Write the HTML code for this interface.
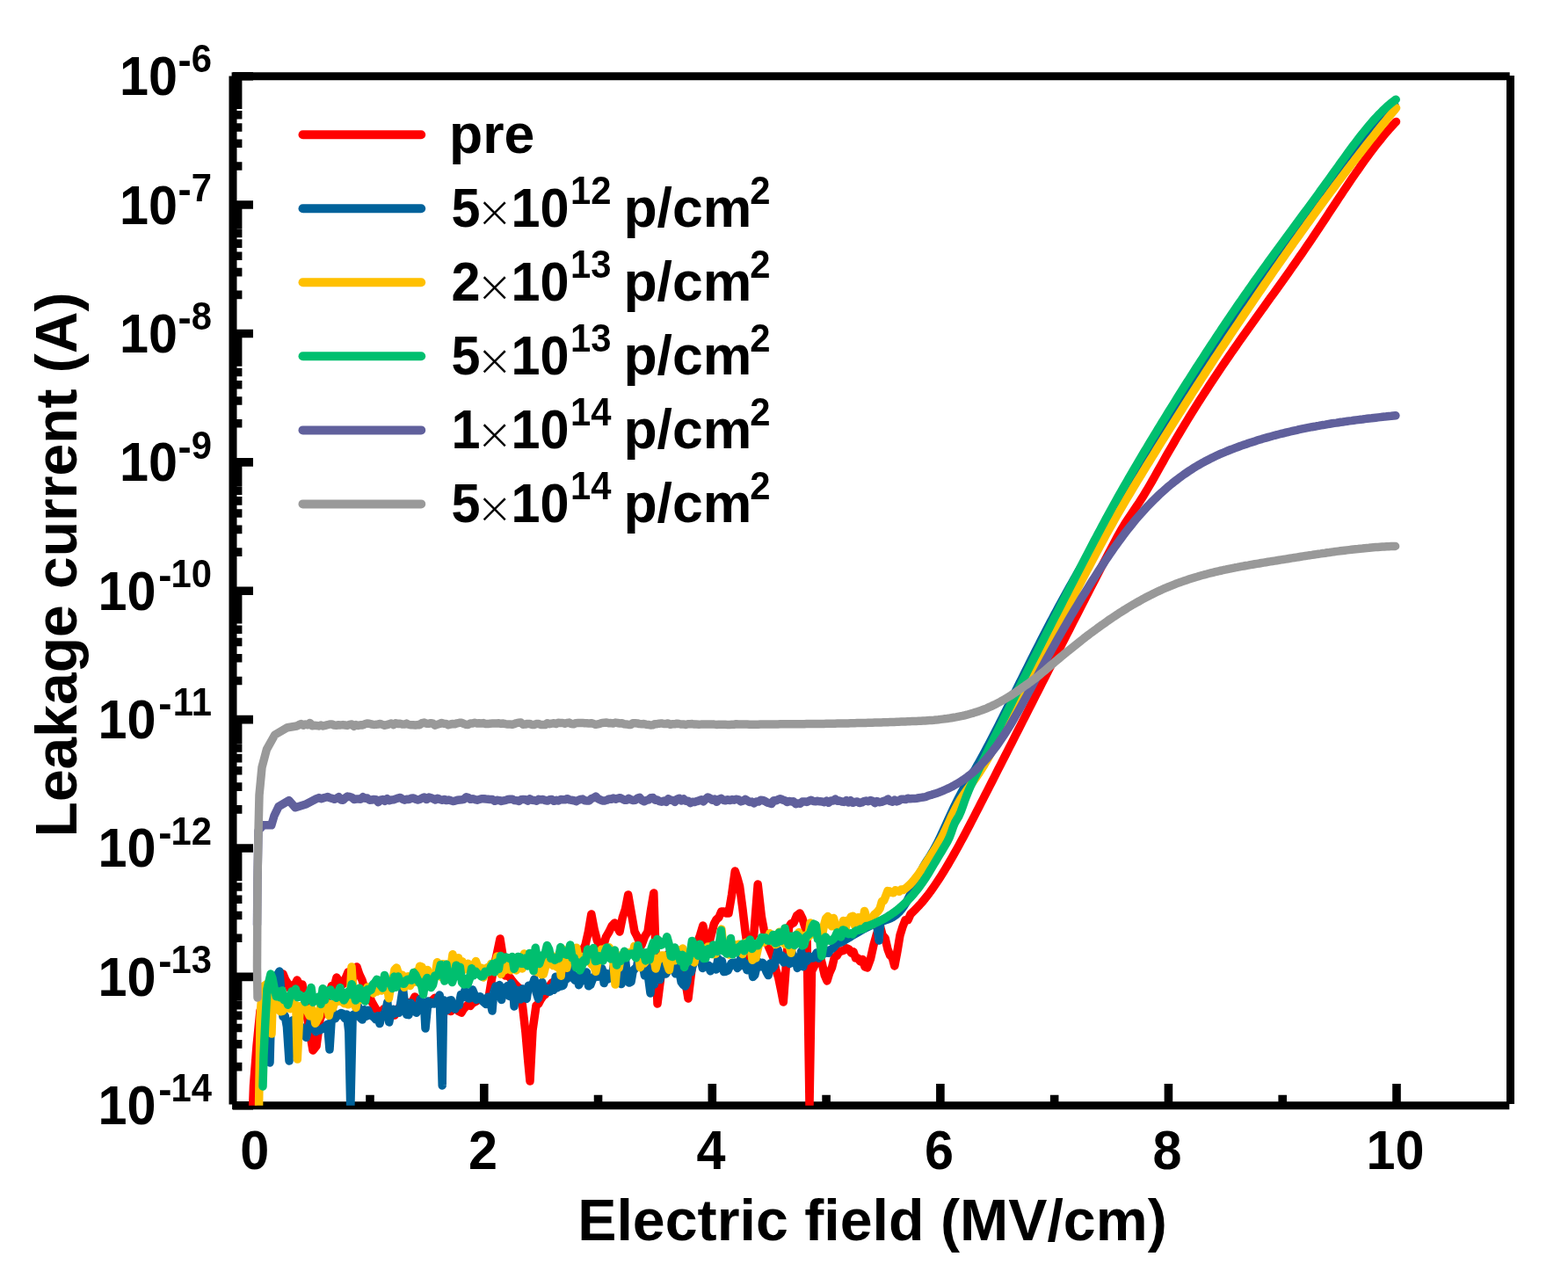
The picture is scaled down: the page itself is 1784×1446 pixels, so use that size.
<!DOCTYPE html><html><head><meta charset="utf-8"><title>Leakage current vs electric field</title><style>html,body{margin:0;padding:0;background:#fff;overflow:hidden}svg{display:block}text{font-family:"Liberation Sans",Arial,sans-serif;font-weight:bold;fill:#000}</style></head><body>
<svg width="1784" height="1446" viewBox="0 0 1784 1446">
<rect width="1784" height="1446" fill="#fff"/>
<defs><clipPath id="pc"><rect x="265.0" y="86.7" width="1453.5" height="1171.0"/></clipPath></defs>
<path d="M265.0,86.6 V1256.4 M264.1,1257.7 H1717.3 M263.6,86.7 H1717.7 M1718.5,86.1 V1256" stroke="#000" stroke-width="9.0" fill="none"/>
<path d="M291.20,1257.7 V1233.10 M550.76,1257.7 V1233.10 M810.32,1257.7 V1233.10 M1069.88,1257.7 V1233.10 M1329.44,1257.7 V1233.10 M1589.00,1257.7 V1233.10 M420.98,1257.7 V1245.70 M680.54,1257.7 V1245.70 M940.10,1257.7 V1245.70 M1199.66,1257.7 V1245.70 M1459.22,1257.7 V1245.70 M265.0,1257.70 H288.00 M265.0,1213.64 H275.40 M265.0,1187.86 H275.40 M265.0,1169.57 H275.40 M265.0,1155.39 H275.40 M265.0,1143.80 H275.40 M265.0,1134.00 H275.40 M265.0,1125.51 H275.40 M265.0,1118.02 H275.40 M265.0,1111.33 H288.00 M265.0,1067.26 H275.40 M265.0,1041.49 H275.40 M265.0,1023.20 H275.40 M265.0,1009.01 H275.40 M265.0,997.42 H275.40 M265.0,987.62 H275.40 M265.0,979.14 H275.40 M265.0,971.65 H275.40 M265.0,964.95 H288.00 M265.0,920.89 H275.40 M265.0,895.11 H275.40 M265.0,876.82 H275.40 M265.0,862.64 H275.40 M265.0,851.05 H275.40 M265.0,841.25 H275.40 M265.0,832.76 H275.40 M265.0,825.27 H275.40 M265.0,818.58 H288.00 M265.0,774.51 H275.40 M265.0,748.74 H275.40 M265.0,730.45 H275.40 M265.0,716.26 H275.40 M265.0,704.67 H275.40 M265.0,694.87 H275.40 M265.0,686.39 H275.40 M265.0,678.90 H275.40 M265.0,672.20 H288.00 M265.0,628.14 H275.40 M265.0,602.36 H275.40 M265.0,584.07 H275.40 M265.0,569.89 H275.40 M265.0,558.30 H275.40 M265.0,548.50 H275.40 M265.0,540.01 H275.40 M265.0,532.52 H275.40 M265.0,525.83 H288.00 M265.0,481.76 H275.40 M265.0,455.99 H275.40 M265.0,437.70 H275.40 M265.0,423.51 H275.40 M265.0,411.92 H275.40 M265.0,402.12 H275.40 M265.0,393.64 H275.40 M265.0,386.15 H275.40 M265.0,379.45 H288.00 M265.0,335.39 H275.40 M265.0,309.61 H275.40 M265.0,291.32 H275.40 M265.0,277.14 H275.40 M265.0,265.55 H275.40 M265.0,255.75 H275.40 M265.0,247.26 H275.40 M265.0,239.77 H275.40 M265.0,233.07 H288.00 M265.0,189.01 H275.40 M265.0,163.24 H275.40 M265.0,144.95 H275.40 M265.0,130.76 H275.40 M265.0,119.17 H275.40 M265.0,109.37 H275.40 M265.0,100.89 H275.40 M265.0,93.40 H275.40 M265.0,86.70 H288.00" stroke="#000" stroke-width="9.6" fill="none"/>
<g clip-path="url(#pc)" fill="none" stroke-width="9.5" stroke-linejoin="round" stroke-linecap="round">
<polyline stroke="#ff0000" points="287.5,1262.0 288.5,1235.0 292.0,1190.0 296.0,1150.0 296.0,1150.0 299.0,1142.5 302.0,1137.0 305.0,1130.0 308.0,1128.1 311.0,1124.7 314.0,1118.0 316.7,1113.8 319.3,1109.9 322.0,1108.0 324.7,1114.6 327.3,1118.6 330.0,1125.0 332.7,1121.0 335.3,1120.5 338.0,1115.0 341.0,1120.9 344.0,1120.0 347.0,1140.5 350.0,1160.0 353.0,1177.1 356.0,1195.0 360.0,1190.0 364.0,1160.0 366.7,1152.8 369.3,1139.6 372.0,1135.0 374.8,1129.2 377.5,1121.4 380.2,1122.5 383.0,1112.0 386.5,1117.4 390.0,1120.0 393.0,1113.3 396.0,1106.0 398.5,1110.1 401.0,1115.0 403.5,1102.5 406.0,1100.0 409.0,1108.9 412.0,1115.0 414.5,1123.6 417.0,1124.2 419.5,1131.0 422.8,1139.4 426.0,1145.0 429.4,1150.9 432.7,1154.0 436.4,1147.9 440.0,1148.0 443.0,1152.2 446.0,1155.4 449.0,1155.0 452.0,1150.5 455.0,1144.9 458.0,1140.0 460.7,1143.2 463.3,1140.3 466.0,1145.0 469.0,1139.7 472.0,1134.0 476.0,1139.0 478.7,1143.1 481.3,1140.5 484.0,1145.0 486.7,1144.7 489.3,1139.5 492.0,1138.0 494.7,1135.2 497.3,1140.5 500.0,1142.0 502.7,1142.7 505.3,1148.0 508.0,1150.0 510.5,1146.9 513.0,1150.6 515.5,1146.3 518.0,1147.0 521.5,1150.2 525.0,1152.0 527.5,1147.8 530.0,1145.4 532.5,1143.0 535.0,1144.4 537.5,1141.4 540.0,1140.0 542.7,1138.5 545.3,1136.2 548.0,1138.0 550.7,1139.3 553.3,1137.5 556.0,1135.0 559.0,1116.8 562.0,1100.0 565.5,1084.5 569.0,1068.0 572.0,1086.9 575.0,1110.0 577.7,1110.0 580.3,1112.3 583.0,1116.0 586.0,1119.7 589.0,1122.6 592.0,1125.0 595.0,1148.5 598.0,1175.0 600.5,1204.0 603.0,1230.0 606.0,1172.0 610.0,1144.0 612.7,1141.9 615.3,1137.0 618.0,1133.0 620.5,1131.3 623.0,1124.9 625.5,1121.5 628.0,1118.0 631.0,1116.9 634.0,1113.9 637.0,1113.6 640.0,1110.0 643.2,1105.2 646.3,1108.2 649.5,1103.0 652.1,1096.9 654.8,1093.7 657.4,1086.7 660.0,1085.0 663.0,1081.2 666.0,1075.0 669.4,1060.0 672.8,1040.0 676.1,1057.1 679.4,1070.0 682.7,1075.7 686.0,1078.0 689.5,1065.9 693.0,1060.0 696.1,1053.4 699.3,1050.0 702.1,1054.1 705.0,1060.0 708.2,1044.1 711.5,1034.2 714.7,1018.0 718.4,1039.4 722.0,1060.0 724.7,1065.0 727.3,1071.0 730.0,1075.0 733.5,1065.6 737.0,1060.0 740.4,1036.2 743.8,1016.0 748.0,1142.0 751.5,1114.2 755.0,1090.0 757.5,1088.5 760.0,1085.7 762.5,1083.7 765.0,1080.0 767.5,1085.9 770.0,1084.8 772.5,1090.1 775.0,1095.0 777.7,1109.0 780.3,1119.6 783.0,1136.0 786.5,1106.9 790.0,1080.0 793.3,1073.0 796.5,1064.2 799.8,1053.0 802.9,1066.7 806.0,1076.0 809.2,1063.6 812.4,1051.0 815.2,1045.9 817.9,1043.8 820.7,1037.0 823.5,1036.9 826.2,1039.0 829.0,1039.0 832.6,1017.7 836.3,991.0 838.9,998.8 841.5,1008.0 844.8,1032.8 848.0,1060.0 851.0,1080.5 854.0,1101.0 858.0,1060.0 862.2,1006.0 866.4,1043.0 869.2,1057.7 872.0,1070.0 874.7,1077.6 877.3,1083.6 880.0,1090.0 882.8,1103.6 885.6,1111.8 888.5,1125.8 891.3,1140.0 894.4,1097.8 897.5,1055.0 900.2,1050.6 903.0,1050.0 906.5,1041.8 910.0,1039.0 912.7,1044.3 915.3,1052.5 918.0,1062.0 921.0,1257.0 923.5,1105.0 926.6,1098.6 929.7,1091.0 932.8,1087.0 935.5,1097.1 938.3,1109.7 941.0,1116.0 943.8,1106.7 946.6,1100.5 949.4,1089.0 952.3,1087.2 955.1,1082.1 958.0,1082.0 960.7,1080.8 963.3,1078.7 966.0,1080.0 968.5,1084.0 971.0,1082.7 973.5,1090.1 976.0,1090.0 978.7,1093.9 981.4,1091.5 984.0,1099.8 986.7,1101.0 990.4,1091.1 994.0,1075.0 997.6,1062.4 1001.2,1053.0 1004.1,1064.0 1007.1,1067.4 1010.0,1080.0 1012.6,1086.8 1015.2,1089.3 1017.8,1099.0 1020.9,1082.5 1024.0,1064.0 1027.0,1054.4 1030.0,1046.7 1033.0,1046.8 1036.0,1040.0 1041.0,1035.1 1043.5,1032.5 1046.0,1029.9 1048.5,1027.1 1051.0,1024.1 1053.5,1021.0 1056.0,1017.8 1058.5,1014.5 1061.0,1011.0 1063.5,1007.4 1066.0,1003.7 1068.5,999.9 1071.0,996.0 1073.5,992.0 1076.0,987.9 1078.5,983.7 1081.0,979.4 1083.5,975.1 1086.0,970.7 1088.5,966.2 1091.0,961.7 1093.5,957.1 1096.0,952.4 1098.5,947.7 1101.0,943.0 1103.5,938.2 1106.0,933.4 1108.5,928.6 1111.0,923.7 1113.5,918.8 1116.0,913.9 1118.5,909.1 1121.0,904.2 1123.5,899.3 1126.0,894.4 1128.5,889.5 1131.0,884.6 1133.5,879.7 1136.0,874.7 1138.5,869.8 1141.0,864.9 1143.5,860.0 1146.0,855.1 1148.5,850.2 1151.0,845.3 1153.5,840.4 1156.0,835.4 1158.5,830.5 1161.0,825.6 1163.5,820.7 1166.0,815.8 1168.5,810.8 1171.0,805.9 1173.5,801.0 1176.0,796.1 1178.5,791.2 1181.0,786.3 1183.5,781.3 1186.0,776.4 1188.5,771.5 1191.0,766.6 1193.5,761.7 1196.0,756.8 1198.5,751.9 1201.0,746.9 1203.5,742.0 1206.0,737.1 1208.5,732.2 1211.0,727.3 1213.5,722.4 1216.0,717.5 1218.5,712.6 1221.0,707.7 1223.5,702.8 1226.0,698.0 1228.5,693.1 1231.0,688.2 1233.5,683.3 1236.0,678.4 1238.5,673.6 1241.0,668.7 1243.5,663.8 1246.0,659.0 1248.5,654.1 1251.0,649.3 1253.5,644.4 1256.0,639.6 1258.5,634.9 1261.0,630.1 1263.5,625.4 1266.0,620.6 1268.5,616.0 1271.0,611.3 1273.5,606.7 1276.0,602.3 1278.5,598.1 1281.0,594.1 1283.5,590.3 1286.0,586.6 1288.5,582.9 1291.0,579.2 1293.5,575.5 1296.0,571.8 1298.5,567.9 1301.0,563.9 1303.5,559.8 1306.0,555.6 1308.5,551.3 1311.0,547.0 1313.5,542.6 1316.0,538.1 1318.5,533.7 1321.0,529.2 1323.5,524.8 1326.0,520.3 1328.5,515.9 1331.0,511.6 1333.5,507.3 1336.0,503.0 1338.5,498.7 1341.0,494.5 1343.5,490.3 1346.0,486.1 1348.5,482.0 1351.0,477.9 1353.5,473.8 1356.0,469.8 1358.5,465.8 1361.0,461.8 1363.5,457.8 1366.0,453.9 1368.5,450.0 1371.0,446.1 1373.5,442.3 1376.0,438.4 1378.5,434.6 1381.0,430.8 1383.5,427.1 1386.0,423.3 1388.5,419.6 1391.0,415.9 1393.5,412.3 1396.0,408.6 1398.5,405.0 1401.0,401.4 1403.5,397.8 1406.0,394.2 1408.5,390.6 1411.0,387.1 1413.5,383.5 1416.0,380.0 1418.5,376.5 1421.0,373.0 1423.5,369.5 1426.0,366.0 1428.5,362.5 1431.0,359.0 1433.5,355.5 1436.0,352.0 1438.5,348.6 1441.0,345.1 1443.5,341.6 1446.0,338.1 1448.5,334.7 1451.0,331.2 1453.5,327.7 1456.0,324.2 1458.5,320.7 1461.0,317.2 1463.5,313.7 1466.0,310.2 1468.5,306.6 1471.0,303.1 1473.5,299.5 1476.0,295.9 1478.5,292.3 1481.0,288.7 1483.5,285.1 1486.0,281.4 1488.5,277.8 1491.0,274.1 1493.5,270.4 1496.0,266.6 1498.5,262.9 1501.0,259.1 1503.5,255.4 1506.0,251.6 1508.5,247.8 1511.0,244.0 1513.5,240.2 1516.0,236.4 1518.5,232.6 1521.0,228.8 1523.5,225.0 1526.0,221.3 1528.5,217.5 1531.0,213.8 1533.5,210.1 1536.0,206.4 1538.5,202.7 1541.0,199.1 1543.5,195.4 1546.0,191.9 1548.5,188.3 1551.0,184.8 1553.5,181.3 1556.0,177.9 1558.5,174.5 1561.0,171.2 1563.5,167.9 1566.0,164.7 1568.5,161.5 1571.0,158.4 1573.5,155.3 1576.0,152.3 1578.5,149.4 1581.0,146.5 1583.5,143.8 1586.0,141.0 1588.5,138.4"/>
<polyline stroke="#00629b" points="307.0,1209.0 308.0,1170.0 311.0,1130.0 315.0,1110.0 318.0,1105.0 322.0,1156.6 324.2,1155.7 326.4,1167.9 329.0,1207.0 330.8,1170.7 333.0,1160.7 335.2,1175.5 337.4,1168.0 339.6,1166.4 341.8,1167.3 344.0,1169.9 346.2,1176.0 348.4,1180.3 350.6,1170.1 352.8,1163.9 355.0,1154.5 357.2,1167.2 359.4,1173.7 361.6,1172.1 363.8,1172.0 366.0,1170.8 368.2,1169.2 370.4,1167.5 372.6,1165.2 375.0,1194.0 377.0,1162.5 379.2,1151.6 381.4,1158.8 383.6,1154.4 385.8,1155.0 388.0,1152.5 390.2,1153.2 392.4,1158.7 394.6,1154.0 396.8,1173.4 398.8,1262.0 401.2,1154.7 403.4,1154.0 405.6,1151.5 407.8,1145.3 410.0,1158.0 412.2,1160.1 414.4,1148.7 416.6,1156.3 418.8,1149.2 421.0,1154.7 423.2,1155.8 425.4,1157.3 427.6,1159.8 429.8,1155.7 432.0,1164.6 434.2,1155.2 436.4,1154.7 438.6,1150.7 440.8,1140.1 442.7,1163.0 445.2,1150.5 447.4,1148.2 449.6,1153.0 451.8,1149.5 454.0,1152.2 456.2,1138.8 458.4,1124.6 460.6,1143.0 462.8,1154.3 465.0,1154.7 467.2,1140.9 469.4,1145.2 471.6,1149.8 473.8,1152.2 476.0,1145.7 478.2,1136.5 480.4,1144.6 482.6,1144.0 484.0,1170.0 487.0,1139.0 489.2,1142.7 491.4,1140.6 493.6,1142.0 495.8,1141.1 498.0,1137.0 500.2,1132.0 503.2,1235.0 504.6,1137.7 506.8,1144.0 509.0,1149.2 511.2,1138.4 513.4,1137.7 515.6,1146.4 517.8,1148.1 520.0,1143.1 522.2,1143.7 524.4,1131.5 526.6,1135.0 528.8,1126.9 531.0,1133.2 533.2,1136.0 535.4,1135.6 537.6,1126.0 539.8,1131.4 542.0,1137.4 544.2,1135.8 546.4,1133.7 548.6,1138.0 550.8,1140.5 553.0,1142.5 555.2,1134.2 557.4,1138.5 560.0,1150.0 561.8,1128.5 564.0,1122.1 566.2,1126.5 568.4,1120.6 570.6,1137.4 572.8,1125.1 575.0,1124.0 577.2,1121.8 579.4,1133.4 581.6,1118.7 583.8,1124.1 585.0,1145.0 588.2,1126.5 590.4,1128.4 592.6,1137.0 594.8,1124.9 597.0,1131.0 599.2,1136.3 601.4,1121.2 603.6,1122.3 605.8,1120.7 608.0,1113.9 610.2,1129.2 612.4,1136.2 614.6,1126.2 616.8,1117.4 619.0,1127.2 621.2,1124.0 623.4,1128.0 625.6,1128.3 627.8,1123.2 630.0,1126.3 632.2,1111.2 634.4,1123.8 636.6,1117.4 638.8,1122.0 641.0,1120.9 643.2,1112.6 645.4,1113.4 647.6,1109.6 649.8,1102.5 652.0,1112.5 654.2,1115.2 656.4,1110.4 658.6,1120.7 660.8,1115.5 663.0,1115.4 665.2,1109.0 667.4,1106.0 669.6,1121.8 671.8,1120.5 674.0,1114.7 676.2,1111.0 678.4,1110.4 680.6,1111.1 682.8,1109.4 685.0,1101.8 687.2,1118.6 689.4,1107.2 691.6,1113.9 693.8,1112.2 696.0,1111.3 698.2,1099.1 700.4,1115.8 702.6,1115.5 704.8,1118.0 707.0,1119.5 709.2,1105.6 711.4,1091.6 713.6,1111.2 715.8,1118.1 718.0,1117.2 720.2,1104.5 722.4,1102.0 724.6,1100.0 726.8,1086.6 729.0,1093.5 731.2,1095.9 733.4,1109.8 735.6,1098.8 737.8,1113.4 740.0,1130.0 742.2,1097.6 744.4,1120.0 746.6,1103.1 748.8,1111.5 751.0,1114.6 753.2,1098.2 755.4,1093.4 757.6,1108.1 759.8,1104.5 762.0,1097.8 764.2,1098.6 766.4,1102.0 768.6,1107.8 770.8,1099.2 773.0,1106.2 775.2,1117.5 777.4,1120.4 779.6,1122.0 781.8,1116.6 784.0,1094.9 786.2,1105.9 788.4,1097.8 790.6,1093.2 792.8,1087.3 795.0,1085.5 797.2,1091.3 799.4,1101.5 801.6,1097.2 803.8,1098.7 806.0,1098.2 808.2,1104.8 810.4,1100.3 812.6,1099.8 814.8,1103.1 817.0,1090.5 819.2,1097.1 821.4,1093.3 823.6,1105.6 825.8,1105.3 828.0,1104.3 830.2,1099.8 832.4,1095.5 834.6,1097.6 836.8,1094.9 839.0,1101.4 841.2,1099.0 843.4,1086.7 845.6,1098.5 847.8,1095.8 850.0,1103.7 852.2,1100.2 854.4,1096.4 856.6,1111.4 858.8,1109.1 861.0,1099.7 863.2,1094.3 865.4,1099.8 867.6,1095.2 869.8,1099.7 872.0,1105.7 874.2,1109.6 876.4,1096.1 878.6,1101.9 880.8,1098.9 883.0,1089.1 885.2,1080.6 887.4,1091.8 889.6,1087.1 891.8,1095.0 894.0,1090.6 896.2,1089.0 898.4,1096.4 900.6,1082.7 902.8,1089.9 905.0,1088.9 907.2,1101.4 909.4,1098.2 911.6,1082.3 913.8,1099.7 916.0,1088.0 918.2,1093.3 920.4,1087.9 922.6,1089.7 924.8,1090.0 927.0,1087.5 929.2,1083.9 931.4,1090.3 933.6,1087.0 935.8,1084.9 938.0,1084.9 940.2,1081.2 942.4,1084.3 944.6,1080.6 946.8,1079.4 949.0,1077.5 951.2,1074.6 953.4,1073.1 955.6,1072.7 957.8,1071.5 960.0,1070.3 962.2,1069.0 964.4,1067.7 966.6,1066.4 968.8,1065.0 971.0,1063.7 973.2,1062.4 975.4,1061.1 977.6,1059.8 979.8,1058.6 982.0,1057.4 984.2,1056.2 986.4,1055.1 988.6,1054.0 990.8,1053.0 993.0,1052.0 995.2,1051.1 997.4,1050.2 1000.0,1070.0 1001.8,1048.7 1004.0,1048.0 1006.2,1047.4 1008.4,1046.6 1010.6,1045.8 1012.8,1044.9 1015.0,1043.8 1017.2,1042.5 1019.4,1040.9 1021.6,1039.0 1023.8,1036.8 1026.0,1034.2 1028.2,1031.2 1030.4,1027.7 1032.6,1023.7 1034.8,1019.3 1037.0,1014.7 1039.2,1009.9 1041.4,1005.0 1043.6,1000.1 1045.8,995.4 1048.0,990.9 1050.2,986.7 1052.4,982.9 1054.6,979.4 1056.8,976.0 1059.0,972.5 1061.2,968.8 1063.4,964.9 1065.6,960.8 1067.8,956.4 1070.0,951.8 1072.2,947.1 1074.4,942.3 1076.6,937.4 1078.8,932.6 1081.0,927.8 1083.2,923.0 1085.4,918.3 1087.6,913.7 1089.8,909.3 1092.0,905.1 1094.2,901.1 1096.4,897.2 1098.6,893.4 1100.8,889.7 1103.0,886.0 1105.2,882.3 1107.4,878.6 1109.6,874.8 1111.8,870.9 1114.0,867.0 1116.2,863.0 1118.4,859.0 1120.6,854.9 1122.8,850.8 1125.0,846.6 1127.2,842.4 1129.4,838.2 1131.6,833.9 1133.8,829.6 1136.0,825.3 1138.2,821.0 1140.4,816.6 1142.6,812.2 1144.8,807.8 1147.0,803.4 1149.2,798.9 1151.4,794.5 1153.6,790.1 1155.8,785.6 1158.0,781.2 1160.2,776.7 1162.4,772.3 1164.6,767.8 1166.8,763.4 1169.0,759.0 1171.2,754.6 1173.4,750.2 1175.6,745.8 1177.8,741.4 1180.0,737.1 1182.2,732.8 1184.4,728.5 1186.6,724.2 1188.8,720.0 1191.0,715.7 1193.2,711.5 1195.4,707.3 1197.6,703.2 1199.8,699.0 1202.0,694.9 1204.2,690.8 1206.4,686.8 1208.6,682.7 1210.8,678.7 1213.0,674.7 1215.2,670.8 1217.4,666.9 1219.6,663.0 1221.8,659.1 1224.0,655.3 1226.2,651.4 1228.4,647.6 1230.6,643.9 1232.8,640.1 1235.0,636.4 1237.2,632.6 1239.4,628.9 1241.6,625.2 1243.8,621.5 1246.0,617.8 1248.2,614.1 1250.4,610.4 1252.6,606.7 1254.8,603.0 1257.0,599.3 1259.2,595.6 1261.4,591.9 1263.6,588.2 1265.8,584.5 1268.0,580.8 1270.2,577.1 1272.4,573.4 1274.6,569.6 1276.8,565.9 1279.0,562.2 1281.2,558.5 1283.4,554.8 1285.6,551.0 1287.8,547.3 1290.0,543.6 1292.2,539.9 1294.4,536.2 1296.6,532.5 1298.8,528.8 1301.0,525.1 1303.2,521.4 1305.4,517.7 1307.6,514.0 1309.8,510.3 1312.0,506.7 1314.2,503.0 1316.4,499.4 1318.6,495.7 1320.8,492.1 1323.0,488.5 1325.2,484.8 1327.4,481.2 1329.6,477.6 1331.8,474.0 1334.0,470.5 1336.2,466.9 1338.4,463.4 1340.6,459.8 1342.8,456.3 1345.0,452.8 1347.2,449.3 1349.4,445.8 1351.6,442.4 1353.8,438.9 1356.0,435.5 1358.2,432.0 1360.4,428.6 1362.6,425.2 1364.8,421.8 1367.0,418.5 1369.2,415.1 1371.4,411.7 1373.6,408.4 1375.8,405.1 1378.0,401.8 1380.2,398.4 1382.4,395.1 1384.6,391.9 1386.8,388.6 1389.0,385.3 1391.2,382.0 1393.4,378.8 1395.6,375.5 1397.8,372.3 1400.0,369.1 1402.2,365.9 1404.4,362.6 1406.6,359.4 1408.8,356.2 1411.0,353.0 1413.2,349.9 1415.4,346.7 1417.6,343.5 1419.8,340.4 1422.0,337.2 1424.2,334.0 1426.4,330.9 1428.6,327.7 1430.8,324.6 1433.0,321.5 1435.2,318.3 1437.4,315.2 1439.6,312.1 1441.8,309.0 1444.0,305.8 1446.2,302.7 1448.4,299.6 1450.6,296.5 1452.8,293.4 1455.0,290.3 1457.2,287.2 1459.4,284.1 1461.6,281.0 1463.8,277.9 1466.0,274.8 1468.2,271.7 1470.4,268.6 1472.6,265.5 1474.8,262.4 1477.0,259.3 1479.2,256.2 1481.4,253.2 1483.6,250.1 1485.8,247.0 1488.0,243.9 1490.2,240.9 1492.4,237.8 1494.6,234.8 1496.8,231.7 1499.0,228.7 1501.2,225.7 1503.4,222.7 1505.6,219.7 1507.8,216.7 1510.0,213.7 1512.2,210.7 1514.4,207.7 1516.6,204.8 1518.8,201.9 1521.0,198.9 1523.2,196.0 1525.4,193.1 1527.6,190.2 1529.8,187.4 1532.0,184.5 1534.2,181.7 1536.4,178.9 1538.6,176.1 1540.8,173.3 1543.0,170.5 1545.2,167.8 1547.4,165.1 1549.6,162.4 1551.8,159.7 1554.0,157.0 1556.2,154.4 1558.4,151.8 1560.6,149.2 1562.8,146.6 1565.0,144.0 1567.2,141.5 1569.4,139.0 1571.6,136.5 1573.8,134.1 1576.0,131.7 1578.2,129.3 1580.4,126.9 1582.6,124.6 1584.8,122.3 1587.0,120.0"/>
<polyline stroke="#ffc000" points="294.5,1262.0 295.0,1230.0 295.5,1200.0 296.0,1160.0 297.0,1143.0 300.0,1122.0 303.0,1120.0 306.0,1123.9 309.0,1176.0 310.4,1131.4 312.6,1137.8 314.8,1137.9 317.0,1148.6 319.2,1150.8 321.4,1150.4 323.6,1147.4 325.8,1135.4 328.0,1136.9 330.2,1147.8 332.4,1139.0 334.6,1144.1 336.8,1143.4 338.3,1205.0 341.2,1144.7 343.4,1145.9 345.6,1146.0 347.8,1147.5 350.0,1151.0 352.2,1155.9 354.4,1146.9 356.6,1152.2 358.8,1164.3 361.0,1160.2 363.2,1156.2 365.4,1140.4 367.6,1144.8 369.8,1147.5 372.0,1141.0 374.2,1155.4 376.4,1145.6 378.6,1147.2 380.8,1139.9 383.0,1139.1 385.2,1139.2 387.4,1138.3 389.6,1140.1 391.8,1141.8 394.0,1138.9 396.2,1142.8 398.4,1131.9 400.0,1100.0 402.8,1142.3 405.0,1146.4 407.2,1134.3 409.4,1137.4 411.6,1130.4 413.8,1134.8 416.0,1131.3 418.2,1123.1 420.4,1123.1 422.6,1125.6 424.8,1129.9 427.0,1120.0 429.2,1128.1 431.4,1116.8 433.6,1127.1 435.8,1126.1 438.0,1118.5 440.2,1119.0 442.4,1135.7 444.6,1122.0 446.8,1115.3 449.0,1103.1 451.2,1101.0 453.4,1107.6 455.6,1111.7 457.8,1109.2 460.0,1123.3 462.2,1118.1 464.4,1110.7 466.6,1121.6 468.8,1114.8 471.0,1117.5 473.2,1105.6 475.4,1108.5 477.6,1099.2 480.0,1100.0 482.0,1107.8 484.2,1119.0 486.4,1103.5 488.6,1114.3 490.8,1114.5 493.0,1108.9 495.2,1109.2 497.4,1094.8 499.6,1109.6 501.8,1111.4 504.0,1096.7 506.2,1097.5 508.4,1097.2 510.6,1100.1 512.8,1101.2 515.0,1085.8 517.2,1100.7 519.4,1093.9 521.6,1089.7 523.8,1101.0 526.0,1093.8 528.2,1103.2 530.4,1101.0 532.6,1096.3 534.8,1105.0 537.0,1103.9 539.2,1098.0 541.4,1093.6 543.6,1099.9 545.8,1105.9 548.0,1101.3 550.2,1112.0 552.4,1102.1 554.6,1100.7 556.8,1102.2 559.0,1096.2 561.2,1101.0 563.4,1097.5 565.6,1088.1 567.8,1092.4 570.0,1108.4 572.2,1102.8 574.4,1103.8 576.6,1094.6 578.8,1097.5 581.0,1103.7 583.2,1099.1 585.4,1094.3 587.6,1103.9 589.8,1093.9 592.0,1092.9 594.2,1102.0 596.4,1085.0 598.6,1095.6 600.8,1085.4 603.0,1088.3 605.2,1092.4 607.4,1101.6 609.6,1104.5 611.8,1106.0 614.0,1103.9 616.2,1108.7 618.4,1108.3 620.6,1099.9 622.8,1096.4 625.0,1089.0 627.2,1086.9 629.4,1098.6 631.6,1096.1 633.8,1100.2 636.0,1085.2 638.2,1110.2 640.0,1080.0 642.6,1095.2 644.8,1101.3 647.0,1089.0 649.2,1093.1 651.4,1082.6 653.6,1083.2 655.8,1078.2 658.0,1089.4 660.2,1091.9 662.4,1088.4 664.6,1094.8 666.8,1093.8 669.0,1088.0 671.2,1092.4 673.4,1097.8 675.6,1098.3 677.8,1105.3 680.0,1094.0 682.2,1084.1 684.4,1080.2 686.6,1083.8 688.8,1078.8 691.0,1081.7 693.2,1077.8 695.4,1086.1 697.6,1091.3 700.0,1120.0 702.0,1098.8 704.2,1101.2 706.4,1086.7 708.6,1087.1 710.8,1083.2 713.0,1086.6 715.2,1083.8 717.4,1084.8 719.6,1085.6 721.8,1076.4 724.0,1082.2 726.2,1084.0 728.4,1100.7 730.6,1094.6 732.8,1095.9 735.0,1093.2 737.2,1086.0 739.4,1082.4 741.6,1092.0 743.8,1088.8 746.0,1102.0 748.2,1093.6 750.4,1090.7 752.6,1087.1 754.8,1087.1 757.0,1087.8 759.2,1097.1 761.4,1103.6 763.6,1085.6 765.8,1092.8 768.0,1092.8 770.2,1080.2 772.4,1081.2 774.6,1085.7 776.8,1079.1 779.0,1097.6 781.2,1091.7 783.4,1087.9 785.6,1086.7 787.8,1086.8 790.0,1095.0 792.2,1083.7 794.4,1086.3 796.6,1077.5 798.8,1081.5 801.0,1079.0 803.2,1081.1 805.4,1077.1 807.6,1077.1 809.8,1083.3 812.0,1085.7 814.2,1085.3 816.4,1076.6 818.6,1076.7 820.8,1057.1 823.0,1076.6 825.2,1075.4 827.4,1080.8 829.6,1086.1 831.8,1076.0 834.0,1082.6 836.2,1074.8 838.4,1079.8 840.6,1074.2 842.8,1078.7 845.0,1085.4 847.2,1073.2 849.4,1072.0 851.6,1071.9 853.8,1075.8 856.0,1092.2 858.2,1077.5 860.0,1090.0 862.6,1078.1 864.8,1069.6 867.0,1071.3 869.2,1072.1 871.4,1066.7 873.6,1069.1 875.8,1061.8 878.0,1070.9 880.2,1064.5 882.4,1074.5 884.6,1073.4 886.8,1060.2 889.0,1061.3 891.2,1066.0 893.4,1074.5 895.6,1064.6 897.8,1074.1 900.0,1084.3 902.2,1072.8 904.4,1073.1 906.6,1069.9 908.8,1060.7 911.0,1070.3 913.2,1065.5 915.4,1064.3 917.6,1066.7 919.8,1066.0 922.0,1049.9 924.2,1062.9 926.4,1058.4 928.6,1064.1 930.8,1060.7 933.0,1059.4 935.2,1065.3 937.4,1053.1 939.6,1045.0 941.8,1042.6 944.0,1048.4 946.2,1053.8 948.4,1044.4 950.6,1053.0 952.8,1055.9 955.0,1061.1 957.2,1063.2 959.4,1047.5 961.6,1059.7 963.8,1047.2 966.0,1048.7 968.2,1043.0 970.4,1042.3 972.6,1053.0 974.8,1044.3 977.0,1043.7 979.2,1048.0 981.4,1049.7 983.6,1036.4 985.8,1043.7 988.0,1045.5 990.2,1051.7 992.4,1051.7 994.6,1040.5 996.8,1038.9 999.0,1036.7 1001.2,1033.3 1003.4,1025.4 1005.6,1024.8 1007.8,1019.2 1010.0,1013.6 1012.2,1014.0 1014.4,1015.3 1016.6,1015.8 1018.8,1012.8 1021.0,1013.5 1023.2,1014.3 1025.4,1012.0 1027.6,1012.5 1029.8,1011.0 1032.0,1009.3 1034.2,1007.3 1036.4,1005.1 1038.6,1002.7 1040.8,1000.0 1043.0,997.2 1045.2,994.2 1047.4,991.1 1049.6,987.8 1051.8,984.5 1054.0,981.1 1056.2,977.7 1058.4,974.3 1060.6,970.9 1062.8,967.5 1065.0,964.0 1067.2,960.3 1069.4,956.5 1071.6,952.4 1073.8,948.1 1076.0,943.5 1078.2,938.7 1080.4,933.9 1082.6,929.1 1084.8,924.5 1087.0,920.1 1089.2,915.9 1091.4,912.0 1093.6,908.3 1095.8,904.9 1098.0,901.7 1100.2,898.5 1102.4,895.5 1104.6,892.6 1106.8,889.6 1109.0,886.6 1111.2,883.6 1113.4,880.4 1115.6,877.0 1117.8,873.5 1120.0,869.9 1122.2,866.1 1124.4,862.3 1126.6,858.3 1128.8,854.2 1131.0,850.0 1133.2,845.8 1135.4,841.5 1137.6,837.2 1139.8,832.8 1142.0,828.4 1144.2,824.0 1146.4,819.6 1148.6,815.1 1150.8,810.7 1153.0,806.4 1155.2,802.0 1157.4,797.8 1159.6,793.5 1161.8,789.3 1164.0,785.1 1166.2,780.9 1168.4,776.8 1170.6,772.7 1172.8,768.6 1175.0,764.5 1177.2,760.4 1179.4,756.4 1181.6,752.3 1183.8,748.3 1186.0,744.3 1188.2,740.3 1190.4,736.3 1192.6,732.2 1194.8,728.2 1197.0,724.2 1199.2,720.1 1201.4,716.1 1203.6,712.0 1205.8,707.9 1208.0,703.8 1210.2,699.7 1212.4,695.5 1214.6,691.4 1216.8,687.2 1219.0,683.0 1221.2,678.8 1223.4,674.6 1225.6,670.4 1227.8,666.2 1230.0,662.0 1232.2,657.8 1234.4,653.6 1236.6,649.4 1238.8,645.2 1241.0,641.0 1243.2,636.8 1245.4,632.7 1247.6,628.5 1249.8,624.4 1252.0,620.3 1254.2,616.2 1256.4,612.2 1258.6,608.1 1260.8,604.2 1263.0,600.2 1265.2,596.3 1267.4,592.4 1269.6,588.5 1271.8,584.7 1274.0,580.9 1276.2,577.1 1278.4,573.3 1280.6,569.6 1282.8,565.9 1285.0,562.2 1287.2,558.5 1289.4,554.8 1291.6,551.2 1293.8,547.6 1296.0,544.0 1298.2,540.4 1300.4,536.8 1302.6,533.2 1304.8,529.6 1307.0,526.1 1309.2,522.5 1311.4,519.0 1313.6,515.4 1315.8,511.9 1318.0,508.3 1320.2,504.8 1322.4,501.3 1324.6,497.7 1326.8,494.2 1329.0,490.7 1331.2,487.2 1333.4,483.7 1335.6,480.2 1337.8,476.7 1340.0,473.2 1342.2,469.7 1344.4,466.3 1346.6,462.8 1348.8,459.3 1351.0,455.9 1353.2,452.4 1355.4,449.0 1357.6,445.5 1359.8,442.1 1362.0,438.7 1364.2,435.3 1366.4,431.9 1368.6,428.5 1370.8,425.1 1373.0,421.7 1375.2,418.3 1377.4,414.9 1379.6,411.6 1381.8,408.2 1384.0,404.9 1386.2,401.5 1388.4,398.2 1390.6,394.9 1392.8,391.6 1395.0,388.3 1397.2,385.0 1399.4,381.7 1401.6,378.4 1403.8,375.1 1406.0,371.8 1408.2,368.6 1410.4,365.3 1412.6,362.0 1414.8,358.8 1417.0,355.5 1419.2,352.3 1421.4,349.1 1423.6,345.8 1425.8,342.6 1428.0,339.4 1430.2,336.1 1432.4,332.9 1434.6,329.7 1436.8,326.5 1439.0,323.3 1441.2,320.1 1443.4,317.0 1445.6,313.8 1447.8,310.6 1450.0,307.4 1452.2,304.3 1454.4,301.1 1456.6,298.0 1458.8,294.8 1461.0,291.7 1463.2,288.6 1465.4,285.5 1467.6,282.3 1469.8,279.2 1472.0,276.1 1474.2,273.0 1476.4,269.9 1478.6,266.9 1480.8,263.8 1483.0,260.7 1485.2,257.7 1487.4,254.6 1489.6,251.6 1491.8,248.5 1494.0,245.5 1496.2,242.5 1498.4,239.4 1500.6,236.4 1502.8,233.4 1505.0,230.4 1507.2,227.4 1509.4,224.5 1511.6,221.5 1513.8,218.5 1516.0,215.6 1518.2,212.6 1520.4,209.7 1522.6,206.7 1524.8,203.8 1527.0,200.9 1529.2,198.0 1531.4,195.1 1533.6,192.2 1535.8,189.3 1538.0,186.4 1540.2,183.6 1542.4,180.7 1544.6,177.8 1546.8,175.0 1549.0,172.2 1551.2,169.3 1553.4,166.5 1555.6,163.7 1557.8,160.9 1560.0,158.1 1562.2,155.4 1564.4,152.6 1566.6,149.8 1568.8,147.1 1571.0,144.3 1573.2,141.6 1575.4,138.9 1577.6,136.2 1579.8,133.5 1582.0,130.8 1584.2,128.1 1586.4,125.4 1588.6,122.8"/>
<polyline stroke="#00bf6f" points="299.0,1236.0 300.0,1200.0 302.0,1160.0 304.0,1125.0 308.0,1108.0 310.0,1113.3 312.2,1124.8 314.4,1133.8 316.6,1127.7 318.8,1134.7 321.0,1126.9 323.2,1137.8 325.4,1136.9 327.6,1143.2 329.8,1134.1 332.0,1127.9 334.2,1130.9 336.4,1125.1 338.6,1134.6 340.8,1131.7 343.0,1133.2 345.2,1135.0 347.4,1140.0 349.6,1132.1 351.8,1129.9 354.0,1123.4 356.2,1140.4 358.4,1136.0 360.6,1137.3 362.8,1133.9 365.0,1142.4 367.2,1124.7 369.4,1137.9 371.6,1127.3 373.8,1130.6 376.0,1125.9 378.2,1133.2 380.4,1130.9 382.6,1135.2 384.8,1129.0 387.0,1123.6 389.2,1134.3 391.4,1138.0 393.6,1134.0 395.8,1128.4 398.0,1131.4 400.2,1119.7 402.4,1128.9 404.6,1138.1 406.8,1132.8 409.0,1124.2 411.2,1135.8 413.4,1132.1 415.6,1139.1 417.8,1125.8 420.0,1127.4 422.2,1126.1 424.4,1119.8 426.6,1117.9 428.8,1114.4 431.0,1115.3 433.2,1121.3 435.4,1124.1 437.6,1109.4 439.8,1116.1 442.0,1116.5 444.2,1119.0 446.4,1124.6 448.6,1111.1 450.8,1123.2 453.0,1111.0 455.2,1117.7 457.4,1118.9 459.6,1119.3 461.8,1115.4 464.0,1114.3 466.2,1114.6 468.4,1115.2 470.6,1106.4 472.8,1109.2 475.0,1114.1 477.2,1118.4 479.4,1120.1 481.6,1131.4 483.8,1116.5 486.0,1112.5 488.2,1119.3 490.4,1123.6 492.6,1120.3 494.8,1109.9 497.0,1110.4 499.2,1106.5 501.4,1097.4 503.6,1100.0 505.8,1116.1 508.0,1097.3 510.2,1112.9 512.4,1109.9 514.6,1117.6 516.8,1109.6 519.0,1098.2 521.2,1110.4 523.4,1100.3 525.6,1117.9 527.8,1120.1 530.0,1113.5 532.2,1119.8 534.4,1113.4 536.6,1101.7 538.8,1109.8 541.0,1105.0 543.2,1107.7 545.4,1108.7 547.6,1110.9 549.8,1110.5 552.0,1105.4 554.2,1106.0 556.4,1105.8 558.6,1099.9 560.8,1096.5 563.0,1105.9 565.2,1094.9 567.4,1102.5 569.6,1087.5 571.8,1092.3 574.0,1089.2 576.2,1089.1 578.4,1089.9 580.6,1090.8 582.8,1088.6 585.0,1102.4 587.2,1096.7 589.4,1088.5 591.6,1088.9 593.8,1096.3 596.0,1096.0 598.2,1089.9 600.4,1098.9 602.6,1084.4 604.8,1090.5 607.0,1104.6 609.2,1078.3 611.4,1090.7 613.6,1096.5 615.8,1089.8 618.0,1086.4 620.2,1084.6 622.4,1075.5 624.6,1079.8 626.8,1090.6 629.0,1089.1 631.2,1092.4 633.4,1089.8 635.6,1090.4 637.8,1077.6 640.0,1085.0 642.2,1084.9 644.4,1086.2 646.6,1083.6 648.8,1075.0 651.0,1089.8 653.2,1089.7 655.4,1100.7 657.6,1094.7 659.8,1103.9 662.0,1099.4 664.2,1092.3 666.4,1093.9 668.6,1080.0 670.8,1085.5 673.0,1082.8 675.2,1078.5 677.4,1093.6 679.6,1093.1 681.8,1087.9 684.0,1088.5 686.2,1092.9 688.4,1083.3 690.6,1077.9 692.8,1080.9 695.0,1090.9 697.2,1089.5 699.4,1081.1 701.6,1098.1 703.8,1089.1 706.0,1093.6 708.2,1089.1 710.4,1082.3 712.6,1089.8 714.8,1087.1 717.0,1085.2 719.2,1085.0 721.4,1086.6 723.6,1089.8 725.8,1075.5 728.0,1085.3 730.2,1083.2 732.4,1083.9 734.6,1092.9 736.8,1083.4 739.0,1092.0 741.2,1078.7 743.4,1072.2 745.6,1081.2 747.8,1068.5 750.0,1070.5 752.2,1075.2 754.4,1074.0 756.6,1072.6 758.8,1065.7 761.0,1073.5 763.2,1087.7 765.4,1088.5 767.6,1078.0 769.8,1085.1 772.0,1085.9 774.2,1093.6 776.4,1086.3 778.6,1100.4 780.8,1088.3 783.0,1094.0 785.2,1085.2 787.4,1070.4 789.6,1075.0 791.8,1081.1 794.0,1087.2 796.2,1074.2 798.4,1081.6 800.6,1090.4 802.8,1090.2 805.0,1080.0 807.2,1079.2 809.4,1085.5 811.6,1074.9 813.8,1080.5 816.0,1082.6 818.2,1075.5 820.4,1058.5 822.6,1081.7 824.8,1082.5 827.0,1085.1 829.2,1082.4 831.4,1067.5 833.6,1086.0 835.8,1079.7 838.0,1083.7 840.2,1077.7 842.4,1076.5 844.6,1073.9 846.8,1081.8 849.0,1073.5 851.2,1073.3 853.4,1069.0 855.6,1079.4 857.8,1075.3 860.0,1073.6 862.2,1075.8 864.4,1072.2 866.6,1066.4 868.8,1067.6 871.0,1066.9 873.2,1070.1 875.4,1070.3 877.6,1068.5 879.8,1063.4 882.0,1073.1 884.2,1072.5 886.4,1061.0 888.6,1070.6 890.8,1066.6 893.0,1056.0 895.2,1069.0 897.4,1075.2 899.6,1065.3 901.8,1065.2 904.0,1075.5 906.2,1063.4 908.4,1065.4 910.6,1070.0 912.8,1075.9 915.0,1075.0 917.2,1065.7 919.4,1063.7 921.6,1062.0 923.8,1055.3 926.0,1051.2 928.2,1052.2 930.4,1068.4 932.6,1068.4 934.8,1087.8 937.0,1074.7 939.2,1066.0 941.4,1068.8 943.6,1070.2 945.8,1070.0 948.0,1068.6 950.2,1065.9 952.4,1060.8 954.6,1061.7 956.8,1066.1 959.0,1057.9 961.2,1058.7 963.4,1061.7 965.6,1062.7 967.8,1061.7 970.0,1062.9 972.2,1060.2 974.4,1058.7 976.6,1058.3 978.8,1057.1 981.0,1057.3 983.2,1056.3 985.4,1053.5 987.6,1053.6 989.8,1052.6 992.0,1051.8 994.2,1050.9 996.4,1049.9 998.6,1048.9 1000.8,1047.8 1003.0,1046.7 1005.2,1045.6 1007.4,1044.3 1009.6,1043.0 1011.8,1041.6 1014.0,1040.2 1016.2,1038.7 1018.4,1037.1 1020.6,1035.4 1022.8,1033.6 1025.0,1031.8 1027.2,1029.8 1029.4,1027.8 1031.6,1025.6 1033.8,1023.4 1036.0,1021.0 1038.2,1018.6 1040.4,1016.0 1042.6,1013.3 1044.8,1010.5 1047.0,1007.6 1049.2,1004.5 1051.4,1001.3 1053.6,998.0 1055.8,994.5 1058.0,990.8 1060.2,987.1 1062.4,983.4 1064.6,979.7 1066.8,976.1 1069.0,972.4 1071.2,968.7 1073.4,965.1 1075.6,961.4 1077.8,957.6 1080.0,953.2 1082.2,947.6 1084.4,941.0 1086.6,935.7 1088.8,932.0 1091.0,928.4 1093.2,923.4 1095.4,917.3 1097.6,911.0 1099.8,905.1 1102.0,899.7 1104.2,894.7 1106.4,889.9 1108.6,885.3 1110.8,880.8 1113.0,876.4 1115.2,871.9 1117.4,867.4 1119.6,863.0 1121.8,858.5 1124.0,854.1 1126.2,849.6 1128.4,845.2 1130.6,840.7 1132.8,836.3 1135.0,831.8 1137.2,827.4 1139.4,823.0 1141.6,818.5 1143.8,814.1 1146.0,809.7 1148.2,805.3 1150.4,800.8 1152.6,796.4 1154.8,792.0 1157.0,787.6 1159.2,783.2 1161.4,778.8 1163.6,774.4 1165.8,770.0 1168.0,765.6 1170.2,761.2 1172.4,756.9 1174.6,752.5 1176.8,748.1 1179.0,743.8 1181.2,739.4 1183.4,735.1 1185.6,730.7 1187.8,726.4 1190.0,722.0 1192.2,717.7 1194.4,713.4 1196.6,709.0 1198.8,704.7 1201.0,700.4 1203.2,696.1 1205.4,691.8 1207.6,687.5 1209.8,683.2 1212.0,678.9 1214.2,674.7 1216.4,670.4 1218.6,666.1 1220.8,661.8 1223.0,657.6 1225.2,653.3 1227.4,649.1 1229.6,644.8 1231.8,640.6 1234.0,636.3 1236.2,632.1 1238.4,627.9 1240.6,623.7 1242.8,619.5 1245.0,615.3 1247.2,611.2 1249.4,607.0 1251.6,602.9 1253.8,598.8 1256.0,594.7 1258.2,590.6 1260.4,586.6 1262.6,582.5 1264.8,578.5 1267.0,574.5 1269.2,570.6 1271.4,566.6 1273.6,562.7 1275.8,558.8 1278.0,555.0 1280.2,551.1 1282.4,547.3 1284.6,543.4 1286.8,539.7 1289.0,535.9 1291.2,532.1 1293.4,528.4 1295.6,524.6 1297.8,520.9 1300.0,517.2 1302.2,513.5 1304.4,509.9 1306.6,506.2 1308.8,502.6 1311.0,498.9 1313.2,495.3 1315.4,491.7 1317.6,488.0 1319.8,484.4 1322.0,480.8 1324.2,477.3 1326.4,473.7 1328.6,470.1 1330.8,466.5 1333.0,463.0 1335.2,459.5 1337.4,455.9 1339.6,452.4 1341.8,448.9 1344.0,445.4 1346.2,441.9 1348.4,438.4 1350.6,434.9 1352.8,431.5 1355.0,428.0 1357.2,424.6 1359.4,421.1 1361.6,417.7 1363.8,414.3 1366.0,410.9 1368.2,407.5 1370.4,404.1 1372.6,400.7 1374.8,397.3 1377.0,394.0 1379.2,390.6 1381.4,387.3 1383.6,384.0 1385.8,380.6 1388.0,377.3 1390.2,374.0 1392.4,370.8 1394.6,367.5 1396.8,364.2 1399.0,361.0 1401.2,357.7 1403.4,354.5 1405.6,351.3 1407.8,348.0 1410.0,344.8 1412.2,341.7 1414.4,338.5 1416.6,335.3 1418.8,332.2 1421.0,329.0 1423.2,325.9 1425.4,322.7 1427.6,319.6 1429.8,316.5 1432.0,313.4 1434.2,310.4 1436.4,307.3 1438.6,304.2 1440.8,301.2 1443.0,298.1 1445.2,295.1 1447.4,292.1 1449.6,289.0 1451.8,286.0 1454.0,283.0 1456.2,280.0 1458.4,277.0 1460.6,274.0 1462.8,271.0 1465.0,268.0 1467.2,265.0 1469.4,262.1 1471.6,259.1 1473.8,256.1 1476.0,253.1 1478.2,250.1 1480.4,247.1 1482.6,244.1 1484.8,241.2 1487.0,238.2 1489.2,235.2 1491.4,232.2 1493.6,229.2 1495.8,226.2 1498.0,223.2 1500.2,220.2 1502.4,217.1 1504.6,214.1 1506.8,211.1 1509.0,208.0 1511.2,205.0 1513.4,201.9 1515.6,198.9 1517.8,195.8 1520.0,192.7 1522.2,189.7 1524.4,186.6 1526.6,183.5 1528.8,180.5 1531.0,177.4 1533.2,174.4 1535.4,171.4 1537.6,168.4 1539.8,165.4 1542.0,162.5 1544.2,159.6 1546.4,156.8 1548.6,153.9 1550.8,151.1 1553.0,148.4 1555.2,145.7 1557.4,143.1 1559.6,140.5 1561.8,138.0 1564.0,135.5 1566.2,133.1 1568.4,130.7 1570.6,128.5 1572.8,126.3 1575.0,124.2 1577.2,122.1 1579.4,120.2 1581.6,118.3 1583.8,116.5 1586.0,114.8 1588.2,113.2"/>
<polyline stroke="#60609c" points="292.5,1052.0 293.0,1000.0 294.0,945.0 299.4,938.8 308.8,938.8 312.0,928.0 317.0,917.6 328.8,910.6 336.0,918.8 348.0,914.9 360.4,908.6 362.9,907.6 365.4,908.7 367.9,907.9 370.4,907.2 372.9,906.5 375.4,907.7 377.9,908.4 380.4,909.3 382.9,908.3 385.4,906.7 387.9,910.0 390.4,910.3 392.9,907.7 395.4,906.1 397.9,906.5 400.4,907.2 402.9,909.5 405.4,909.1 407.9,909.1 410.4,909.3 412.9,906.7 415.4,908.3 417.9,908.1 420.4,910.2 422.9,910.0 425.4,909.5 427.9,909.7 430.4,912.7 432.9,910.2 435.4,909.6 437.9,911.3 440.4,908.7 442.9,910.8 445.4,910.0 447.9,909.8 450.4,908.9 452.9,908.0 455.4,907.4 457.9,909.1 460.4,910.2 462.9,909.2 465.4,909.5 467.9,908.3 470.4,907.9 472.9,909.2 475.4,910.0 477.9,909.2 480.4,908.0 482.9,907.0 485.4,909.6 487.9,907.0 490.4,907.8 492.9,908.7 495.4,910.0 497.9,908.2 500.4,909.5 502.9,910.2 505.4,909.4 507.9,910.6 510.4,910.0 512.9,910.8 515.4,911.5 517.9,911.1 520.4,910.3 522.9,910.0 525.4,909.7 527.9,909.3 530.4,906.7 532.9,907.5 535.4,909.3 537.9,908.8 540.4,909.6 542.9,910.2 545.4,909.5 547.9,908.7 550.4,908.7 552.9,909.0 555.4,909.2 557.9,909.6 560.4,909.6 562.9,911.3 565.4,910.3 567.9,910.6 570.4,911.4 572.9,910.9 575.4,910.4 577.9,909.5 580.4,909.2 582.9,909.3 585.4,910.6 587.9,910.7 590.4,911.4 592.9,909.8 595.4,909.4 597.9,909.8 600.4,911.1 602.9,908.9 605.4,910.2 607.9,910.5 610.4,911.2 612.9,909.3 615.4,909.8 617.9,909.5 620.4,910.6 622.9,911.1 625.4,909.8 627.9,909.5 630.4,911.3 632.9,910.3 635.4,911.0 637.9,909.5 640.4,909.8 642.9,909.8 645.4,908.7 647.9,909.8 650.4,910.3 652.9,910.7 655.4,911.7 657.9,910.4 660.4,909.5 662.9,909.1 665.4,910.8 667.9,911.0 670.4,911.0 672.9,908.5 675.4,907.8 677.9,906.1 680.4,908.7 682.9,909.8 685.4,910.9 687.9,911.0 690.4,910.3 692.9,908.9 695.4,909.3 697.9,908.0 700.4,909.2 702.9,908.3 705.4,907.7 707.9,908.8 710.4,910.2 712.9,910.3 715.4,908.4 717.9,909.7 720.4,910.6 722.9,910.3 725.4,908.1 727.9,907.4 730.4,910.5 732.9,911.8 735.4,910.5 737.9,909.9 740.4,907.7 742.9,907.6 745.4,910.2 747.9,910.1 750.4,911.6 752.9,912.2 755.4,911.1 757.9,912.3 760.4,908.7 762.9,910.3 765.4,910.5 767.9,912.3 770.4,909.2 772.9,908.3 775.4,910.8 777.9,909.0 780.4,911.2 782.9,911.2 785.4,913.6 787.9,912.2 790.4,912.4 792.9,911.6 795.4,910.9 797.9,909.7 800.4,911.8 802.9,909.1 805.4,907.0 807.9,908.3 810.4,910.3 812.9,909.1 815.4,912.3 817.9,909.4 820.4,908.4 822.9,910.3 825.4,910.7 827.9,909.8 830.4,910.6 832.9,909.6 835.4,910.2 837.9,909.2 840.4,909.9 842.9,911.9 845.4,911.0 847.9,909.4 850.4,910.9 852.9,912.5 855.4,912.1 857.9,913.8 860.4,912.1 862.9,912.1 865.4,910.3 867.9,910.5 870.4,911.5 872.9,913.1 875.4,913.7 877.9,914.5 880.4,910.7 882.9,910.8 885.4,909.7 887.9,908.7 890.4,909.9 892.9,910.7 895.4,912.5 897.9,911.5 900.4,911.9 902.9,911.8 905.4,914.6 907.9,913.9 910.4,914.2 912.9,912.0 915.4,911.9 917.9,912.4 920.4,911.2 922.9,910.3 925.4,911.5 927.9,911.7 930.4,911.3 932.9,911.8 935.4,912.0 937.9,912.8 940.4,911.2 942.9,913.2 945.4,911.1 947.9,911.0 950.4,909.2 952.9,911.3 955.4,911.1 957.9,912.0 960.4,912.4 962.9,910.7 965.4,912.9 967.9,910.8 970.4,913.3 972.9,912.4 975.4,911.9 977.9,913.6 980.4,913.0 982.9,911.6 985.4,911.0 987.9,911.8 990.4,910.6 992.9,911.3 995.4,913.6 997.9,911.5 1000.4,912.7 1002.9,912.4 1005.4,911.3 1007.9,910.7 1010.4,909.1 1012.9,911.5 1015.4,912.2 1017.9,910.1 1020.4,911.9 1022.9,911.0 1025.4,909.2 1027.9,909.3 1030.4,909.6 1032.9,908.2 1035.4,908.8 1037.9,908.5 1040.4,908.5 1042.9,908.2 1045.4,907.8 1047.9,907.4 1050.4,907.0 1052.9,906.6 1055.4,905.6 1057.9,904.8 1060.4,904.1 1062.9,903.3 1065.4,902.5 1067.9,901.6 1070.4,900.6 1072.9,899.6 1075.4,898.5 1077.9,897.4 1080.4,896.2 1082.9,895.0 1085.4,893.6 1087.9,892.2 1090.4,890.8 1092.9,889.2 1095.4,887.6 1097.9,885.8 1100.4,884.0 1102.9,882.1 1105.4,880.1 1107.9,877.9 1110.4,875.7 1112.9,873.3 1115.4,870.8 1117.9,868.2 1120.4,865.5 1122.9,862.6 1125.4,859.6 1127.9,856.5 1130.4,853.2 1132.9,849.9 1135.4,846.4 1137.9,842.8 1140.4,839.1 1142.9,835.3 1145.4,831.4 1147.9,827.4 1150.4,823.2 1152.9,819.0 1155.4,814.7 1157.9,810.3 1160.4,805.9 1162.9,801.4 1165.4,796.8 1167.9,792.2 1170.4,787.6 1172.9,782.9 1175.4,778.3 1177.9,773.6 1180.4,768.9 1182.9,764.2 1185.4,759.6 1187.9,754.9 1190.4,750.3 1192.9,745.8 1195.4,741.2 1197.9,736.7 1200.4,732.3 1202.9,727.8 1205.4,723.4 1207.9,719.0 1210.4,714.6 1212.9,710.3 1215.4,706.0 1217.9,701.7 1220.4,697.5 1222.9,693.3 1225.4,689.1 1227.9,685.0 1230.4,680.8 1232.9,676.7 1235.4,672.7 1237.9,668.6 1240.4,664.6 1242.9,660.6 1245.4,656.7 1247.9,652.8 1250.4,648.9 1252.9,645.1 1255.4,641.3 1257.9,637.5 1260.4,633.8 1262.9,630.1 1265.4,626.5 1267.9,622.9 1270.4,619.4 1272.9,616.0 1275.4,612.6 1277.9,609.2 1280.4,605.9 1282.9,602.7 1285.4,599.5 1287.9,596.4 1290.4,593.3 1292.9,590.3 1295.4,587.4 1297.9,584.6 1300.4,581.8 1302.9,579.0 1305.4,576.3 1307.9,573.7 1310.4,571.1 1312.9,568.6 1315.4,566.2 1317.9,563.8 1320.4,561.4 1322.9,559.2 1325.4,556.9 1327.9,554.7 1330.4,552.6 1332.9,550.6 1335.4,548.5 1337.9,546.6 1340.4,544.7 1342.9,542.8 1345.4,541.0 1347.9,539.2 1350.4,537.5 1352.9,535.8 1355.4,534.2 1357.9,532.6 1360.4,531.0 1362.9,529.5 1365.4,528.1 1367.9,526.7 1370.4,525.3 1372.9,524.0 1375.4,522.7 1377.9,521.4 1380.4,520.2 1382.9,519.0 1385.4,517.8 1387.9,516.7 1390.4,515.6 1392.9,514.6 1395.4,513.5 1397.9,512.5 1400.4,511.5 1402.9,510.6 1405.4,509.6 1407.9,508.7 1410.4,507.8 1412.9,506.9 1415.4,506.0 1417.9,505.2 1420.4,504.3 1422.9,503.5 1425.4,502.7 1427.9,501.9 1430.4,501.1 1432.9,500.3 1435.4,499.6 1437.9,498.8 1440.4,498.1 1442.9,497.4 1445.4,496.7 1447.9,496.0 1450.4,495.3 1452.9,494.7 1455.4,494.0 1457.9,493.4 1460.4,492.8 1462.9,492.2 1465.4,491.6 1467.9,491.0 1470.4,490.4 1472.9,489.8 1475.4,489.3 1477.9,488.7 1480.4,488.2 1482.9,487.7 1485.4,487.2 1487.9,486.7 1490.4,486.2 1492.9,485.7 1495.4,485.3 1497.9,484.8 1500.4,484.4 1502.9,483.9 1505.4,483.5 1507.9,483.1 1510.4,482.6 1512.9,482.2 1515.4,481.8 1517.9,481.4 1520.4,481.1 1522.9,480.7 1525.4,480.3 1527.9,480.0 1530.4,479.6 1532.9,479.2 1535.4,478.9 1537.9,478.6 1540.4,478.2 1542.9,477.9 1545.4,477.6 1547.9,477.3 1550.4,477.0 1552.9,476.6 1555.4,476.3 1557.9,476.0 1560.4,475.8 1562.9,475.5 1565.4,475.2 1567.9,474.9 1570.4,474.6 1572.9,474.3 1575.4,474.1 1577.9,473.8 1580.4,473.5 1582.9,473.3 1585.4,473.0 1587.9,472.7"/>
<polyline stroke="#999999" points="293.0,1135.0 292.5,1100.0 293.0,1000.0 294.0,946.0 295.0,904.5 298.0,873.0 303.4,852.6 312.7,836.0 327.0,827.7 337.6,826.0 340.1,824.7 342.6,823.6 345.1,825.1 347.6,823.9 350.1,824.7 352.6,822.4 355.1,825.7 357.6,825.3 360.1,825.5 362.6,825.9 365.1,825.1 367.6,825.9 370.1,825.3 372.6,824.7 375.1,824.0 377.6,824.0 380.1,825.0 382.6,825.2 385.1,824.8 387.6,824.9 390.1,824.6 392.6,825.0 395.1,825.4 397.6,824.4 400.1,824.0 402.6,826.3 405.1,824.6 407.6,825.5 410.1,824.8 412.6,824.9 415.1,823.8 417.6,823.0 420.1,823.2 422.6,824.0 425.1,824.4 427.6,824.3 430.1,824.0 432.6,823.5 435.1,824.4 437.6,825.3 440.1,824.6 442.6,823.9 445.1,823.0 447.6,824.6 450.1,822.8 452.6,823.6 455.1,823.3 457.6,824.1 460.1,824.1 462.6,823.1 465.1,824.4 467.6,824.7 470.1,824.8 472.6,825.0 475.1,824.6 477.6,824.7 480.1,822.6 482.6,822.1 485.1,823.3 487.6,823.3 490.1,822.7 492.6,823.2 495.1,825.2 497.6,824.2 500.1,823.5 502.6,822.5 505.1,823.2 507.6,823.4 510.1,824.7 512.6,824.0 515.1,823.5 517.6,823.7 520.1,822.8 522.6,822.3 525.1,822.2 527.6,823.4 530.1,824.3 532.6,824.5 535.1,823.0 537.6,823.1 540.1,822.3 542.6,823.0 545.1,822.8 547.6,823.0 550.1,822.6 552.6,823.6 555.1,823.6 557.6,823.2 560.1,823.1 562.6,823.1 565.1,822.9 567.6,822.8 570.1,823.4 572.6,823.0 575.1,823.6 577.6,824.0 580.1,823.9 582.6,824.3 585.1,823.7 587.6,822.6 590.1,822.3 592.6,822.0 595.1,824.2 597.6,824.1 600.1,823.4 602.6,823.4 605.1,824.5 607.6,824.5 610.1,823.6 612.6,823.4 615.1,824.4 617.6,824.6 620.1,824.6 622.6,822.7 625.1,823.7 627.6,823.1 630.1,822.8 632.6,823.6 635.1,822.3 637.6,822.4 640.1,822.5 642.6,823.2 645.1,822.4 647.6,822.1 650.1,823.5 652.6,823.8 655.1,822.7 657.6,822.6 660.1,822.5 662.6,822.4 665.1,822.8 667.6,822.7 670.1,823.1 672.6,822.7 675.1,823.3 677.6,824.3 680.1,823.8 682.6,823.3 685.1,822.4 687.6,822.2 690.1,822.0 692.6,822.8 695.1,822.6 697.6,823.0 700.1,822.1 702.6,822.5 705.1,823.0 707.6,822.8 710.1,823.7 712.6,823.9 715.1,824.4 717.6,824.5 720.1,822.8 722.6,822.7 725.1,822.9 727.6,823.6 730.1,823.7 732.6,823.6 735.1,824.2 737.6,824.4 740.1,825.0 742.6,824.8 745.1,823.7 747.6,823.7 750.1,823.2 752.6,822.9 755.1,823.5 757.6,823.6 760.1,822.9 762.6,824.2 765.1,823.8 767.6,823.8 770.1,823.2 772.6,823.5 775.1,824.1 777.6,823.9 780.1,824.5 782.6,823.8 785.1,823.7 787.6,823.6 790.1,824.1 792.6,824.1 795.1,824.2 797.6,824.1 800.1,823.9 802.6,824.0 805.1,824.1 807.6,824.0 810.1,824.0 812.6,824.1 815.1,824.4 817.6,824.2 820.1,824.2 822.6,824.2 825.1,824.3 827.6,824.4 830.1,824.4 832.6,824.2 835.1,824.2 837.6,823.8 840.1,824.0 842.6,824.1 845.1,824.0 847.6,824.0 850.1,824.0 852.6,824.2 855.1,824.2 857.6,824.2 860.1,824.3 862.6,824.3 865.1,824.1 867.6,824.1 870.1,823.9 872.6,823.9 875.1,823.9 877.6,824.0 880.1,824.0 882.6,824.0 885.1,823.9 887.6,823.8 890.1,823.8 892.6,823.8 895.1,823.8 897.6,823.8 900.1,823.8 902.6,823.8 905.1,823.8 907.6,823.7 910.1,823.7 912.6,823.7 915.1,823.7 917.6,823.6 920.1,823.6 922.6,823.6 925.1,823.5 927.6,823.5 930.1,823.5 932.6,823.4 935.1,823.4 937.6,823.4 940.1,823.3 942.6,823.3 945.1,823.2 947.6,823.2 950.1,823.2 952.6,823.1 955.1,823.1 957.6,823.0 960.1,823.0 962.6,822.9 965.1,822.9 967.6,822.8 970.1,822.8 972.6,822.7 975.1,822.6 977.6,822.6 980.1,822.5 982.6,822.5 985.1,822.4 987.6,822.3 990.1,822.3 992.6,822.2 995.1,822.1 997.6,822.0 1000.1,822.0 1002.6,821.9 1005.1,821.8 1007.6,821.7 1010.1,821.7 1012.6,821.6 1015.1,821.5 1017.6,821.4 1020.1,821.3 1022.6,821.2 1025.1,821.1 1027.6,821.0 1030.1,820.9 1032.6,820.8 1035.1,820.7 1037.6,820.6 1040.1,820.5 1042.6,820.4 1045.1,820.3 1047.6,820.2 1050.1,820.0 1052.6,819.9 1055.1,819.7 1057.6,819.5 1060.1,819.4 1062.6,819.2 1065.1,818.9 1067.6,818.7 1070.1,818.4 1072.6,818.1 1075.1,817.8 1077.6,817.5 1080.1,817.1 1082.6,816.7 1085.1,816.3 1087.6,815.9 1090.1,815.4 1092.6,814.9 1095.1,814.4 1097.6,813.8 1100.1,813.2 1102.6,812.5 1105.1,811.8 1107.6,811.1 1110.1,810.3 1112.6,809.5 1115.1,808.6 1117.6,807.7 1120.1,806.8 1122.6,805.8 1125.1,804.7 1127.6,803.6 1130.1,802.4 1132.6,801.2 1135.1,799.9 1137.6,798.6 1140.1,797.2 1142.6,795.8 1145.1,794.3 1147.6,792.8 1150.1,791.2 1152.6,789.5 1155.1,787.9 1157.6,786.2 1160.1,784.5 1162.6,782.7 1165.1,781.0 1167.6,779.2 1170.1,777.5 1172.6,775.7 1175.1,773.8 1177.6,771.9 1180.1,770.0 1182.6,768.0 1185.1,765.9 1187.6,763.9 1190.1,761.8 1192.6,759.6 1195.1,757.5 1197.6,755.4 1200.1,753.2 1202.6,751.1 1205.1,749.0 1207.6,746.9 1210.1,744.8 1212.6,742.8 1215.1,740.7 1217.6,738.7 1220.1,736.7 1222.6,734.7 1225.1,732.7 1227.6,730.7 1230.1,728.7 1232.6,726.8 1235.1,724.8 1237.6,722.9 1240.1,721.0 1242.6,719.2 1245.1,717.3 1247.6,715.5 1250.1,713.6 1252.6,711.8 1255.1,710.1 1257.6,708.3 1260.1,706.5 1262.6,704.8 1265.1,703.1 1267.6,701.4 1270.1,699.8 1272.6,698.1 1275.1,696.5 1277.6,694.9 1280.1,693.4 1282.6,691.8 1285.1,690.3 1287.6,688.8 1290.1,687.3 1292.6,685.9 1295.1,684.5 1297.6,683.1 1300.1,681.7 1302.6,680.3 1305.1,679.0 1307.6,677.7 1310.1,676.5 1312.6,675.2 1315.1,674.0 1317.6,672.8 1320.1,671.7 1322.6,670.5 1325.1,669.4 1327.6,668.4 1330.1,667.3 1332.6,666.3 1335.1,665.3 1337.6,664.3 1340.1,663.4 1342.6,662.5 1345.1,661.6 1347.6,660.7 1350.1,659.9 1352.6,659.1 1355.1,658.3 1357.6,657.5 1360.1,656.7 1362.6,656.0 1365.1,655.2 1367.6,654.5 1370.1,653.9 1372.6,653.2 1375.1,652.5 1377.6,651.9 1380.1,651.3 1382.6,650.7 1385.1,650.1 1387.6,649.5 1390.1,649.0 1392.6,648.4 1395.1,647.9 1397.6,647.3 1400.1,646.8 1402.6,646.3 1405.1,645.8 1407.6,645.4 1410.1,644.9 1412.6,644.4 1415.1,644.0 1417.6,643.5 1420.1,643.1 1422.6,642.6 1425.1,642.2 1427.6,641.8 1430.1,641.4 1432.6,641.0 1435.1,640.5 1437.6,640.1 1440.1,639.7 1442.6,639.3 1445.1,638.9 1447.6,638.5 1450.1,638.1 1452.6,637.7 1455.1,637.3 1457.6,636.9 1460.1,636.5 1462.6,636.1 1465.1,635.7 1467.6,635.3 1470.1,634.9 1472.6,634.5 1475.1,634.1 1477.6,633.7 1480.1,633.3 1482.6,632.9 1485.1,632.5 1487.6,632.1 1490.1,631.7 1492.6,631.4 1495.1,631.0 1497.6,630.6 1500.1,630.2 1502.6,629.9 1505.1,629.5 1507.6,629.2 1510.1,628.8 1512.6,628.5 1515.1,628.1 1517.6,627.8 1520.1,627.4 1522.6,627.1 1525.1,626.8 1527.6,626.5 1530.1,626.2 1532.6,625.9 1535.1,625.6 1537.6,625.3 1540.1,625.0 1542.6,624.7 1545.1,624.5 1547.6,624.2 1550.1,624.0 1552.6,623.7 1555.1,623.5 1557.6,623.3 1560.1,623.0 1562.6,622.8 1565.1,622.6 1567.6,622.5 1570.1,622.3 1572.6,622.1 1575.1,622.0 1577.6,621.8 1580.1,621.7 1582.6,621.6 1585.1,621.5 1587.6,621.4"/>
</g>
<text transform="translate(289.8,1330.0) scale(0.95,1)" font-size="62.5" text-anchor="middle">0</text>
<text transform="translate(549.4,1330.0) scale(0.95,1)" font-size="62.5" text-anchor="middle">2</text>
<text transform="translate(808.9,1330.0) scale(0.95,1)" font-size="62.5" text-anchor="middle">4</text>
<text transform="translate(1068.5,1330.0) scale(0.95,1)" font-size="62.5" text-anchor="middle">6</text>
<text transform="translate(1328.0,1330.0) scale(0.95,1)" font-size="62.5" text-anchor="middle">8</text>
<text transform="translate(1587.6,1330.0) scale(0.95,1)" font-size="62.5" text-anchor="middle">10</text>
<text transform="translate(177.4,1279.1) scale(0.95,1)" font-size="62.5" text-anchor="end">10</text>
<text transform="translate(241.0,1253.4) scale(0.95,1)" font-size="44" text-anchor="end">14</text>
<text transform="translate(180.2,1256.4) scale(0.95,1)" font-size="48">-</text>
<text transform="translate(177.4,1132.7) scale(0.95,1)" font-size="62.5" text-anchor="end">10</text>
<text transform="translate(241.0,1107.0) scale(0.95,1)" font-size="44" text-anchor="end">13</text>
<text transform="translate(180.2,1110.0) scale(0.95,1)" font-size="48">-</text>
<text transform="translate(177.4,986.4) scale(0.95,1)" font-size="62.5" text-anchor="end">10</text>
<text transform="translate(241.0,960.6) scale(0.95,1)" font-size="44" text-anchor="end">12</text>
<text transform="translate(180.2,963.6) scale(0.95,1)" font-size="48">-</text>
<text transform="translate(177.4,840.0) scale(0.95,1)" font-size="62.5" text-anchor="end">10</text>
<text transform="translate(241.0,814.3) scale(0.95,1)" font-size="44" text-anchor="end">11</text>
<text transform="translate(180.2,817.3) scale(0.95,1)" font-size="48">-</text>
<text transform="translate(177.4,693.6) scale(0.95,1)" font-size="62.5" text-anchor="end">10</text>
<text transform="translate(241.0,667.9) scale(0.95,1)" font-size="44" text-anchor="end">10</text>
<text transform="translate(180.2,670.9) scale(0.95,1)" font-size="48">-</text>
<text transform="translate(201.9,547.2) scale(0.95,1)" font-size="62.5" text-anchor="end">10</text>
<text transform="translate(241.0,521.5) scale(0.95,1)" font-size="44" text-anchor="end">9</text>
<text transform="translate(202.5,524.5) scale(0.95,1)" font-size="48">-</text>
<text transform="translate(201.9,400.8) scale(0.95,1)" font-size="62.5" text-anchor="end">10</text>
<text transform="translate(241.0,375.1) scale(0.95,1)" font-size="44" text-anchor="end">8</text>
<text transform="translate(202.5,378.1) scale(0.95,1)" font-size="48">-</text>
<text transform="translate(201.9,254.5) scale(0.95,1)" font-size="62.5" text-anchor="end">10</text>
<text transform="translate(241.0,228.8) scale(0.95,1)" font-size="44" text-anchor="end">7</text>
<text transform="translate(202.5,231.8) scale(0.95,1)" font-size="48">-</text>
<text transform="translate(201.9,108.1) scale(0.95,1)" font-size="62.5" text-anchor="end">10</text>
<text transform="translate(241.0,82.4) scale(0.95,1)" font-size="44" text-anchor="end">6</text>
<text transform="translate(202.5,85.4) scale(0.95,1)" font-size="48">-</text>
<text x="992.5" y="1410.5" font-size="66.3" text-anchor="middle">Electric field (MV/cm)</text>
<text transform="translate(87,642.5) rotate(-90)" x="0" y="0" font-size="66" text-anchor="middle">Leakage current (A)</text>
<line x1="344.5" y1="153.2" x2="479.2" y2="153.2" stroke="#ff0000" stroke-width="10" stroke-linecap="round"/>
<text x="511" y="173.8" font-size="62.5">pre</text>
<line x1="344.5" y1="237.2" x2="479.2" y2="237.2" stroke="#00629b" stroke-width="10" stroke-linecap="round"/>
<text transform="translate(513.4,257.8) scale(0.95,1)" font-size="62.5">5</text>
<text x="541.8" y="258.4" font-family="DejaVu Sans" font-weight="200" font-size="50" style="font-family:'DejaVu Sans',sans-serif;font-weight:200">×</text>
<text transform="translate(581.4,257.8) scale(0.95,1)" font-size="62.5">10</text>
<text transform="translate(649.1,232.0) scale(0.95,1)" font-size="44">12</text>
<text x="709.4" y="257.8" font-size="62.5">p/cm</text>
<text transform="translate(853.3,232.0) scale(0.95,1)" font-size="44">2</text>
<line x1="344.5" y1="321.3" x2="479.2" y2="321.3" stroke="#ffc000" stroke-width="10" stroke-linecap="round"/>
<text transform="translate(513.4,341.9) scale(0.95,1)" font-size="62.5">2</text>
<text x="541.8" y="342.5" font-family="DejaVu Sans" font-weight="200" font-size="50" style="font-family:'DejaVu Sans',sans-serif;font-weight:200">×</text>
<text transform="translate(581.4,341.9) scale(0.95,1)" font-size="62.5">10</text>
<text transform="translate(649.1,316.1) scale(0.95,1)" font-size="44">13</text>
<text x="709.4" y="341.9" font-size="62.5">p/cm</text>
<text transform="translate(853.3,316.1) scale(0.95,1)" font-size="44">2</text>
<line x1="344.5" y1="405.3" x2="479.2" y2="405.3" stroke="#00bf6f" stroke-width="10" stroke-linecap="round"/>
<text transform="translate(513.4,425.9) scale(0.95,1)" font-size="62.5">5</text>
<text x="541.8" y="426.5" font-family="DejaVu Sans" font-weight="200" font-size="50" style="font-family:'DejaVu Sans',sans-serif;font-weight:200">×</text>
<text transform="translate(581.4,425.9) scale(0.95,1)" font-size="62.5">10</text>
<text transform="translate(649.1,400.1) scale(0.95,1)" font-size="44">13</text>
<text x="709.4" y="425.9" font-size="62.5">p/cm</text>
<text transform="translate(853.3,400.1) scale(0.95,1)" font-size="44">2</text>
<line x1="344.5" y1="489.4" x2="479.2" y2="489.4" stroke="#60609c" stroke-width="10" stroke-linecap="round"/>
<text transform="translate(513.4,510.0) scale(0.95,1)" font-size="62.5">1</text>
<text x="541.8" y="510.6" font-family="DejaVu Sans" font-weight="200" font-size="50" style="font-family:'DejaVu Sans',sans-serif;font-weight:200">×</text>
<text transform="translate(581.4,510.0) scale(0.95,1)" font-size="62.5">10</text>
<text transform="translate(649.1,484.2) scale(0.95,1)" font-size="44">14</text>
<text x="709.4" y="510.0" font-size="62.5">p/cm</text>
<text transform="translate(853.3,484.2) scale(0.95,1)" font-size="44">2</text>
<line x1="344.5" y1="573.4" x2="479.2" y2="573.4" stroke="#999999" stroke-width="10" stroke-linecap="round"/>
<text transform="translate(513.4,594.0) scale(0.95,1)" font-size="62.5">5</text>
<text x="541.8" y="594.6" font-family="DejaVu Sans" font-weight="200" font-size="50" style="font-family:'DejaVu Sans',sans-serif;font-weight:200">×</text>
<text transform="translate(581.4,594.0) scale(0.95,1)" font-size="62.5">10</text>
<text transform="translate(649.1,568.2) scale(0.95,1)" font-size="44">14</text>
<text x="709.4" y="594.0" font-size="62.5">p/cm</text>
<text transform="translate(853.3,568.2) scale(0.95,1)" font-size="44">2</text>
</svg></body></html>
